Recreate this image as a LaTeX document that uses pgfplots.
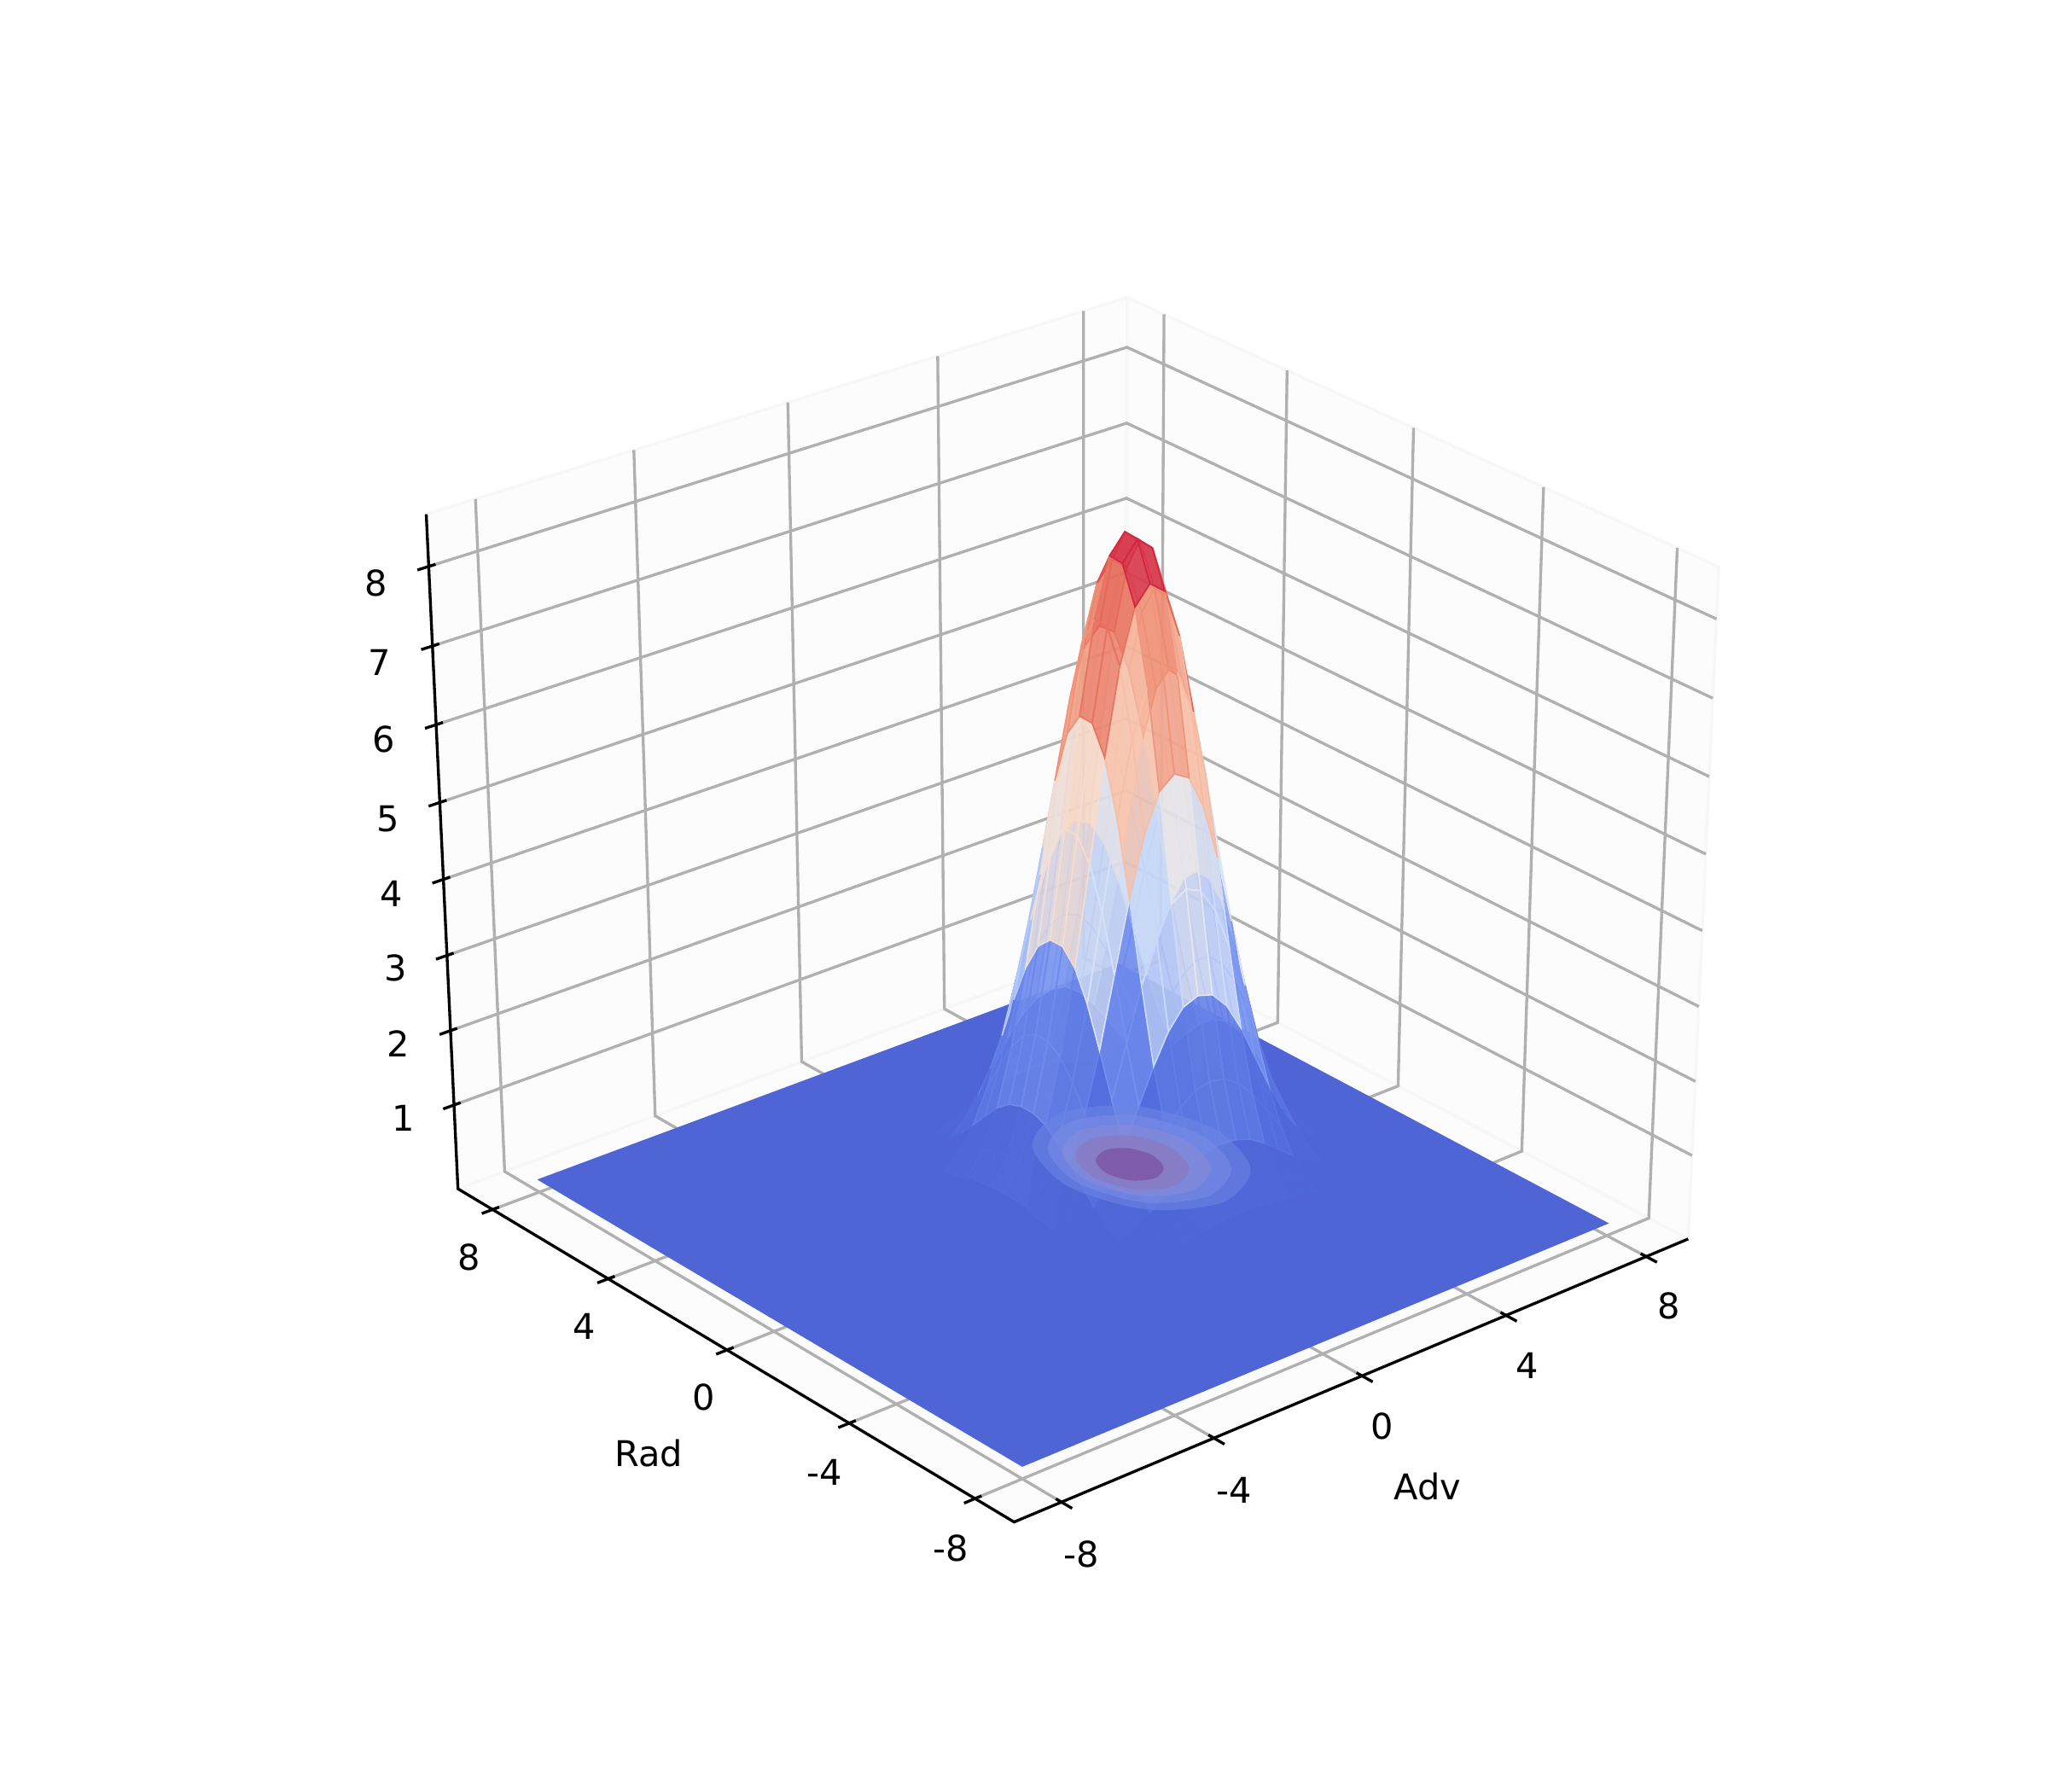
\documentclass[border=0pt]{standalone}
\usepackage{pgfplots}
\usepackage{fontspec}
\setmainfont{DejaVu Sans}
\pgfplotsset{compat=1.18}

% camera fitted to the box corners: data (Adv,Rad,z) -> picture pixels
\newcommand{\pw}[3]{(1.05669+0.003594*((#1)+(#2))-0.0058*(#3))}
\newcommand{\pu}[3]{(1328.8+49.58*(#1)-33.10*(#2)-7.366*(#3))/\pw{#1}{#2}{#3}}
\newcommand{\pv}[3]{2100-(1490.5-12.61*(#1)-15.98*(#2)-98.6*(#3))/\pw{#1}{#2}{#3}}
\newcommand{\pd}[3]{1000*(0.0058*(#3)-0.003594*((#1)+(#2)))}
\newcommand{\adv}{(-1.48+0.4*mod(\coordindex,21))}
\newcommand{\rad}{(-3.12+0.4*floor(\coordindex/21))}
\pgfplotsset{
  /pgfplots/table/proj/.style={
    x expr={\pu{\thisrow{x}}{\thisrow{y}}{\thisrow{z}}},
    y expr={\pv{\thisrow{x}}{\thisrow{y}}{\thisrow{z}}},
    z expr=0,
    row sep=\\
  },
  gridl/.style={no marks, color={rgb,255:red,176;green,176;blue,176}, line width=0.8bp},
  axl/.style={no marks, black, line width=0.8bp},
  pane/.style={no marks, fill={rgb,255:red,252;green,252;blue,252}, draw={rgb,255:red,247;green,247;blue,247}, line width=0.8bp},
  cont/.style={no marks, draw=none, smooth cycle},
  colormap={coolwarm}{
    rgb255=(79,101,214) rgb255=(81,104,216) rgb255=(88,114,224) rgb255=(100,128,232)
    rgb255=(112,140,238) rgb255=(150,178,248) rgb255=(195,215,250) rgb255=(225,230,240)
    rgb255=(245,220,205) rgb255=(247,205,185) rgb255=(247,190,165) rgb255=(245,165,135)
    rgb255=(232,115,95) rgb255=(222,80,75) rgb255=(205,20,60)}
}
\newcommand{\lab}[3]{\node[font=\fontsize{10}{12}\selectfont] at (axis cs:#1,{2100-#2},0) {#3};}

\begin{document}
\begin{tikzpicture}
\useasboundingbox (0,0) rectangle (8in,7in);
\begin{axis}[
    at={(0,0)}, anchor=south west,
    width=8in, height=7in, scale only axis,
    view={0}{90}, hide axis, clip=false,
    xmin=0, xmax=2400, ymin=0, ymax=2100, zmin=-100, zmax=100,
    colormap name=coolwarm, point meta min=0, point meta max=8.0
  ]
  % panes
  \addplot3[pane] table[proj]{x y z\\ -9.22 9.22 -0.14\\ 9.22 9.22 -0.14\\ 9.22 9.22 8.65\\ -9.22 9.22 8.65\\} --cycle;
  \addplot3[pane] table[proj]{x y z\\ 9.22 9.22 -0.14\\ 9.22 -9.22 -0.14\\ 9.22 -9.22 8.65\\ 9.22 9.22 8.65\\} --cycle;
  \addplot3[pane] table[proj]{x y z\\ -9.22 -9.22 -0.14\\ 9.22 -9.22 -0.14\\ 9.22 9.22 -0.14\\ -9.22 9.22 -0.14\\} --cycle;
  % grid
  \pgfplotsinvokeforeach{-8,-4,0,4,8}{
    \addplot3[gridl] table[proj]{x y z\\ #1 -9.22 -0.14\\ #1 9.22 -0.14\\ #1 9.22 8.65\\};
    \addplot3[gridl] table[proj]{x y z\\ -9.22 #1 -0.14\\ 9.22 #1 -0.14\\ 9.22 #1 8.65\\};
    \addplot3[axl] table[proj]{x y z\\ #1 -9.05 -0.14\\ #1 -9.55 -0.14\\};
    \addplot3[axl] table[proj]{x y z\\ -9.05 #1 -0.14\\ -9.5 #1 -0.14\\};
  }
  \pgfplotsinvokeforeach{1,...,8}{
    \addplot3[gridl] table[proj]{x y z\\ -9.22 9.22 #1\\ 9.22 9.22 #1\\ 9.22 -9.22 #1\\};
    \addplot3[axl] table[proj]{x y z\\ -9.05 9.22 #1\\ -9.5 9.22 #1\\};
  }
  % axis lines
  \addplot3[axl] table[proj]{x y z\\ -9.22 9.22 8.65\\ -9.22 9.22 -0.14\\ -9.22 -9.22 -0.14\\ 9.22 -9.22 -0.14\\};
  % flat part of the surface
  \addplot3[surf, shader=flat mean, draw=none, mesh/rows=2, mesh/cols=2, point meta=0.01]
    table[proj]{x y z\\ -8 -8 0.03\\ 8 -8 0.03\\ -8 8 0.03\\ 8 8 0.03\\};
  % peak on a regular Adv/Rad grid, one line per Rad value: z and the colour value of the cell
  \addplot3[surf, shader=flat corner, draw=none, fill opacity=0.72, mesh/rows=21, mesh/cols=21,
      z buffer=sort, point meta=\thisrow{m}]
    table[row sep=\\,
      x expr={\pu{\adv}{\rad}{\thisrow{z}}},
      y expr={\pv{\adv}{\rad}{\thisrow{z}}},
      z expr={\pd{\adv}{\rad}{\thisrow{z}}}]{
z m\\
.01 .06\\.02 .06\\.03 .16\\.06 .16\\.09 .33\\.12 .33\\.16 .50\\.19 .50\\.21 .56\\.22 .56\\.21 .50\\.19 .50\\.16 .35\\.13 .35\\.09 .17\\.06 .17\\.04 .06\\.02 .06\\.01 .01\\0 .01\\0 .01\\
.02 .06\\.04 .06\\.07 .16\\.12 .16\\.19 .33\\.27 .33\\.35 .50\\.42 .50\\.46 .56\\.48 .56\\.47 .50\\.43 .50\\.36 .35\\.28 .35\\.20 .17\\.13 .17\\.08 .06\\.04 .06\\.02 .01\\.01 .01\\0 .01\\
.04 .18\\.08 .18\\.14 .51\\.24 .51\\.38 1.06\\.54 1.06\\.70 1.58\\.83 1.58\\.92 1.80\\.94 1.80\\.92 1.61\\.85 1.61\\.72 1.10\\.56 1.10\\.40 .55\\.26 .55\\.16 .19\\.08 .19\\.04 .05\\.02 .05\\.01 .05\\
.06 .18\\.14 .18\\.26 .51\\.44 .51\\.68 1.06\\.97 1.06\\1.25 1.58\\1.49 1.58\\1.64 1.80\\1.69 1.80\\1.65 1.61\\1.52 1.61\\1.29 1.10\\1.01 1.10\\.72 .55\\.47 .55\\.28 .19\\.15 .19\\.07 .05\\.03 .05\\.01 .05\\
.11 .39\\.22 .39\\.42 1.14\\.71 1.14\\1.11 2.35\\1.57 2.35\\2.03 3.52\\2.42 3.52\\2.67 4.02\\2.75 4.02\\2.69 3.59\\2.47 3.59\\2.10 2.45\\1.64 2.45\\1.18 1.22\\.77 1.22\\.46 .43\\.24 .43\\.12 .10\\.05 .10\\.02 .10\\
.16 .39\\.33 .39\\.62 1.14\\1.06 1.14\\1.64 2.35\\2.32 2.35\\3.01 3.52\\3.58 3.52\\3.95 4.02\\4.07 4.02\\3.98 3.59\\3.65 3.59\\3.10 2.45\\2.43 2.45\\1.74 1.22\\1.13 1.22\\.67 .43\\.36 .43\\.18 .10\\.08 .10\\.03 .10\\
.21 .63\\.44 .63\\.83 1.84\\1.43 1.84\\2.21 3.79\\3.14 3.79\\4.06 5.67\\4.83 5.67\\5.33 6.46\\5.49 6.46\\5.37 5.77\\4.93 5.77\\4.19 3.95\\3.28 3.95\\2.35 1.97\\1.53 1.97\\.91 .69\\.49 .69\\.24 .17\\.10 .17\\.04 .17\\
.26 .63\\.55 .63\\1.03 1.84\\1.77 1.84\\2.74 3.79\\3.88 3.79\\5.03 5.67\\5.99 5.67\\6.60 6.46\\6.80 6.46\\6.65 5.77\\6.10 5.77\\5.19 3.95\\4.06 3.95\\2.91 1.97\\1.90 1.97\\1.13 .69\\.60 .69\\.29 .17\\.13 .17\\.05 .17\\
.30 .76\\.62 .76\\1.18 2.22\\2.02 2.22\\3.13 4.58\\4.43 4.58\\5.74 6.85\\6.84 6.85\\7.53 7.81\\7.76 7.81\\7.60 6.98\\6.97 6.98\\5.93 4.77\\4.63 4.77\\3.32 2.38\\2.17 2.38\\1.29 .84\\.69 .84\\.34 .20\\.15 .20\\.06 .20\\
.32 .76\\.66 .76\\1.25 2.22\\2.14 2.22\\3.33 4.58\\4.71 4.58\\6.10 6.85\\7.26 6.85\\8.00 7.81\\8.24 7.81\\8.07 6.98\\7.40 6.98\\6.29 4.77\\4.92 4.77\\3.52 2.38\\2.30 2.38\\1.36 .84\\.73 .84\\.36 .20\\.16 .20\\.06 .20\\
.32 .72\\.66 .72\\1.25 2.11\\2.15 2.11\\3.33 4.34\\4.72 4.34\\6.11 6.49\\7.28 6.49\\8.02 7.40\\8.26 7.40\\8.09 6.61\\7.42 6.61\\6.31 4.52\\4.93 4.52\\3.53 2.25\\2.31 2.25\\1.37 .79\\.73 .79\\.36 .19\\.16 .19\\.06 .19\\
.30 .72\\.63 .72\\1.19 2.11\\2.04 2.11\\3.16 4.34\\4.48 4.34\\5.80 6.49\\6.90 6.49\\7.60 7.40\\7.83 7.40\\7.67 6.61\\7.03 6.61\\5.98 4.52\\4.68 4.52\\3.35 2.25\\2.19 2.25\\1.30 .79\\.70 .79\\.34 .19\\.15 .19\\.06 .19\\
.27 .53\\.56 .53\\1.05 1.54\\1.80 1.54\\2.79 3.18\\3.95 3.18\\5.11 4.75\\6.09 4.75\\6.71 5.42\\6.91 5.42\\6.77 4.84\\6.21 4.84\\5.28 3.31\\4.13 3.31\\2.95 1.65\\1.93 1.65\\1.14 .58\\.61 .58\\.30 .14\\.13 .14\\.05 .14\\
.22 .53\\.45 .53\\.85 1.54\\1.46 1.54\\2.27 3.18\\3.22 3.18\\4.16 4.75\\4.96 4.75\\5.46 5.42\\5.63 5.42\\5.51 4.84\\5.05 4.84\\4.30 3.31\\3.36 3.31\\2.41 1.65\\1.57 1.65\\.93 .58\\.50 .58\\.24 .14\\.11 .14\\.04 .14\\
.16 .28\\.34 .28\\.64 .83\\1.09 .83\\1.70 1.71\\2.40 1.71\\3.11 2.56\\3.71 2.56\\4.08 2.92\\4.21 2.92\\4.12 2.61\\3.78 2.61\\3.21 1.78\\2.51 1.78\\1.80 .89\\1.17 .89\\.70 .31\\.37 .31\\.18 .08\\.08 .08\\.03 .08\\
.11 .28\\.23 .28\\.44 .83\\.75 .83\\1.16 1.71\\1.64 1.71\\2.12 2.56\\2.53 2.56\\2.79 2.92\\2.87 2.92\\2.81 2.61\\2.58 2.61\\2.19 1.78\\1.71 1.78\\1.23 .89\\.80 .89\\.48 .31\\.26 .31\\.12 .08\\.05 .08\\.02 .08\\
.07 .11\\.14 .11\\.27 .32\\.46 .32\\.72 .66\\1.02 .66\\1.32 .98\\1.57 .98\\1.73 1.12\\1.78 1.12\\1.75 1.00\\1.60 1.00\\1.36 .68\\1.06 .68\\.76 .34\\.50 .34\\.30 .12\\.16 .12\\.08 .03\\.03 .03\\.01 .03\\
.04 .11\\.08 .11\\.15 .32\\.26 .32\\.41 .66\\.57 .66\\.74 .98\\.88 .98\\.97 1.12\\1.00 1.12\\.98 1.00\\.90 1.00\\.77 .68\\.60 .68\\.43 .34\\.28 .34\\.17 .12\\.09 .12\\.04 .03\\.02 .03\\.01 .03\\
.02 .03\\.04 .03\\.08 .08\\.13 .08\\.21 .17\\.29 .17\\.38 .26\\.45 .26\\.50 .30\\.51 .30\\.50 .27\\.46 .27\\.39 .18\\.31 .18\\.22 .09\\.14 .09\\.08 .03\\.05 .03\\.02 .01\\.01 .01\\0 .01\\
.01 .03\\.02 .03\\.04 .08\\.06 .08\\.09 .17\\.13 .17\\.17 .26\\.21 .26\\.23 .30\\.23 .30\\.23 .27\\.21 .27\\.18 .18\\.14 .18\\.10 .09\\.07 .09\\.04 .03\\.02 .03\\.01 .01\\0 .01\\0 .01\\
0 .03\\.01 .03\\.01 .08\\.03 .08\\.04 .17\\.06 .17\\.07 .26\\.09 .26\\.09 .30\\.10 .30\\.10 .27\\.09 .27\\.07 .18\\.06 .18\\.04 .09\\.03 .09\\.02 .03\\.01 .03\\0 .01\\0 .01\\0 .01\\
};
  % filled contours on the floor
  \addplot3[cont, fill={rgb,255:red,110;green,135;blue,228}, fill opacity=0.55] table[proj]{x y z\\
    4.52 0.69 0\\ 3.92 2.58 0\\ 2.47 3.37 0\\ 1.02 2.58 0\\ 0.42 0.69 0\\ 1.02 -1.20 0\\ 2.47 -1.99 0\\ 3.92 -1.20 0\\};
  \addplot3[cont, fill={rgb,255:red,122;green,140;blue,230}, fill opacity=0.55] table[proj]{x y z\\
    4.12 0.67 0\\ 3.62 2.26 0\\ 2.40 2.92 0\\ 1.18 2.26 0\\ 0.68 0.67 0\\ 1.18 -0.92 0\\ 2.40 -1.58 0\\ 3.62 -0.92 0\\};
  \addplot3[cont, fill={rgb,255:red,136;green,140;blue,215}, fill opacity=0.6] table[proj]{x y z\\
    3.70 0.65 0\\ 3.29 1.94 0\\ 2.30 2.47 0\\ 1.31 1.94 0\\ 0.90 0.65 0\\ 1.31 -0.64 0\\ 2.30 -1.17 0\\ 3.29 -0.64 0\\};
  \addplot3[cont, fill={rgb,255:red,140;green,120;blue,190}, fill opacity=0.7] table[proj]{x y z\\
    3.24 0.63 0\\ 2.93 1.61 0\\ 2.17 2.02 0\\ 1.41 1.61 0\\ 1.10 0.63 0\\ 1.41 -0.35 0\\ 2.17 -0.76 0\\ 2.93 -0.35 0\\};
  \addplot3[cont, fill={rgb,255:red,125;green,85;blue,165}, fill opacity=0.8] table[proj]{x y z\\
    2.71 0.60 0\\ 2.52 1.19 0\\ 2.07 1.43 0\\ 1.62 1.19 0\\ 1.43 0.60 0\\ 1.62 0.01 0\\ 2.07 -0.23 0\\ 2.52 0.01 0\\};
  % labels
  \lab{441}{683}{8}\lab{445}{776}{7}\lab{450}{866}{6}\lab{455}{960}{5}
  \lab{459}{1047}{4}\lab{464}{1134}{3}\lab{467}{1223}{2}\lab{473}{1310}{1}
  \lab{550}{1473}{8}\lab{685}{1554}{4}\lab{825}{1637}{0}\lab{966}{1725}{-4}\lab{1114}{1814}{-8}
  \lab{1267}{1821}{-8}\lab{1446}{1746}{-4}\lab{1620}{1671}{0}\lab{1790}{1600}{4}\lab{1956}{1530}{8}
  \lab{760}{1703}{Rad}\lab{1673}{1742}{Adv}
\end{axis}
\end{tikzpicture}
\end{document}
